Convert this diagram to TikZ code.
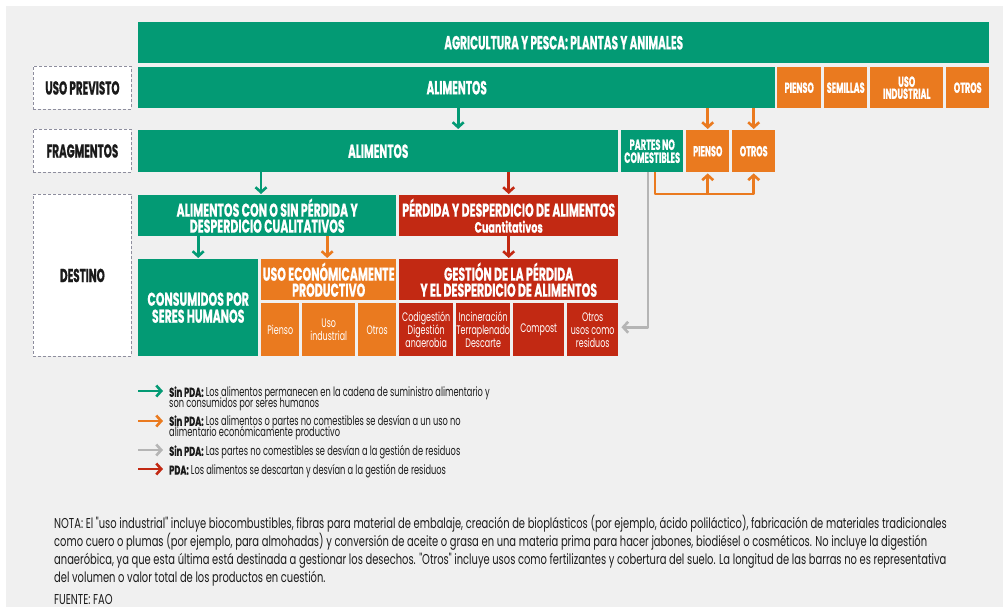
\documentclass[tikz,border=0pt]{standalone}
\usepackage{fontspec}
\usetikzlibrary{arrows.meta}
\newfontfamily\condf{Poppins}[FakeStretch=0.555, BoldFeatures={FakeBold=0.6}]
\newfontfamily\titf{Poppins}[FakeStretch=0.594, BoldFeatures={FakeBold=0.6}]
\newfontfamily\legf{Poppins}[FakeStretch=0.64, BoldFeatures={FakeBold=0.5}]
\newfontfamily\notef{Poppins}[FakeStretch=0.694]
\newcommand\fsz[2]{\fontsize{#1}{#2}\selectfont\lineskiplimit=-100pt\relax}
\definecolor{fgreen}{HTML}{039A74}
\definecolor{forange}{HTML}{EA7A1F}
\definecolor{fred}{HTML}{C22913}
\definecolor{fgray}{HTML}{B5B5B5}
\definecolor{fbg}{HTML}{F0F0F0}
\definecolor{fdash}{HTML}{8E8E9E}
\definecolor{ftext}{HTML}{1A1A1A}
\tikzset{
  bx/.style={anchor=north west, inner sep=0pt, align=center, text=white},
  gbx/.style={bx, fill=fgreen},
  obx/.style={bx, fill=forange},
  rbx/.style={bx, fill=fred},
  big/.style={font=\condf\bfseries\fsz{19}{18}},
  ttl/.style={font=\titf\bfseries\fsz{18.5}{16}},
  sml/.style={font=\condf\bfseries\fsz{14.6}{12}},
  sub/.style={font=\legf\fsz{12.4}{13}},
  lab/.style={anchor=north west, inner sep=0pt, fill=white, draw=fdash,
    dash pattern=on 3pt off 2pt, line width=0.9pt, text=ftext,
    font=\condf\bfseries\fsz{18.7}{18}},
  arr/.style={line width=2.6pt, -{Straight Barb[length=5pt,width=11pt]}, shorten >=1pt},
  legtxt/.style={anchor=north west, inner sep=0pt, align=left, text=ftext, font=\legf\fsz{12.9}{10.5}},
  notetxt/.style={anchor=base west, inner sep=0pt, text=ftext, font=\notef\fsz{14.3}{15}},
}
\begin{document}
\begin{tikzpicture}[x=1pt,y=-1pt]
\useasboundingbox (0,0) rectangle (1003,607);
\fill[white] (0,0) rectangle (1003,607);
\fill[fbg] (6,6) rectangle (1003,607);

% labels
\node[lab, minimum width=98pt, minimum height=43pt] (labUso) at (33,66) {USO PREVISTO};
\node[lab, minimum width=98pt, minimum height=43pt] (labFrag) at (33,129) {FRAGMENTOS};
\node[lab, minimum width=98pt, minimum height=162pt] (labDest) at (33,194) {DESTINO};

% row 1
\node[gbx, big, minimum width=851pt, minimum height=41pt] (agri) at (138,22) {AGRICULTURA Y PESCA: PLANTAS Y ANIMALES};
% row 2
\node[gbx, big, minimum width=637pt, minimum height=41pt] (ali2) at (138,67) {ALIMENTOS};
\node[obx, sml, minimum width=44pt, minimum height=41pt] (pien2) at (777,67) {PIENSO};
\node[obx, sml, minimum width=43pt, minimum height=41pt] (sem2) at (824,67) {SEMILLAS};
\node[obx, sml, minimum width=73pt, minimum height=41pt] (ind2) at (870,67) {USO\\INDUSTRIAL};
\node[obx, sml, minimum width=43pt, minimum height=41pt] (otr2) at (946,67) {OTROS};
% row 3
\node[gbx, big, minimum width=480pt, minimum height=42pt] (ali3) at (138,130) {ALIMENTOS};
\node[gbx, font=\condf\bfseries\fsz{14.8}{13}, minimum width=62pt, minimum height=42pt] (partes) at (621,130) {PARTES NO\\COMESTIBLES};
\node[obx, sml, minimum width=43pt, minimum height=42pt] (pien3) at (686,130) {PIENSO};
\node[obx, sml, minimum width=43pt, minimum height=42pt] (otr3) at (732,130) {OTROS};
% row 4
\node[gbx, ttl, minimum width=258pt, minimum height=41pt] (conq) at (138,195) {ALIMENTOS CON O SIN PÉRDIDA Y\\DESPERDICIO CUALITATIVOS};
\node[rbx, ttl, minimum width=219pt, minimum height=41pt] (pdq) at (399,195) {PÉRDIDA Y DESPERDICIO DE ALIMENTOS\\{\legf\fsz{15}{16}Cuantitativos}};
% row 5
\node[gbx, font=\titf\bfseries\fsz{18.5}{17}, minimum width=120pt, minimum height=97pt] (cons) at (138,259) {CONSUMIDOS POR\\SERES HUMANOS};
\node[obx, ttl, minimum width=135pt, minimum height=41pt] (usoe) at (261,259) {USO ECONÓMICAMENTE\\PRODUCTIVO};
\node[obx, sub, minimum width=38pt, minimum height=53pt] (upi) at (261,303) {Pienso};
\node[obx, sub, minimum width=53pt, minimum height=53pt] (uind) at (302,303) {Uso\\industrial};
\node[obx, sub, minimum width=38pt, minimum height=53pt] (uotr) at (358,303) {Otros};
\node[rbx, ttl, minimum width=219pt, minimum height=41pt] (gest) at (399,259) {GESTIÓN DE LA PÉRDIDA\\Y EL DESPERDICIO DE ALIMENTOS};
\node[rbx, sub, minimum width=54pt, minimum height=53pt] (gcod) at (399,303) {Codigestión\\Digestión\\anaerobia};
\node[rbx, sub, minimum width=54pt, minimum height=53pt] (ginc) at (456,303) {Incineración\\Terraplenado\\Descarte};
\node[rbx, sub, minimum width=51pt, minimum height=53pt] (gcom) at (513,303) {Compost};
\node[rbx, sub, minimum width=51pt, minimum height=53pt] (gotr) at (567,303) {Otros\\usos como\\residuos};

% connectors
\draw[arr, fgreen] ([xshift=1.5pt]ali2.south) -- ([xshift=1.5pt]ali2.south |- ali3.north);
\draw[arr, forange] (pien3.north |- ali2.south) -- (pien3.north);
\draw[arr, forange] (otr3.north |- ali2.south) -- (otr3.north);
\draw[arr, fgreen] ([xshift=123pt]ali3.south west) -- ([xshift=123pt]ali3.south west |- conq.north);
\draw[arr, fred] (pdq.north |- ali3.south) -- (pdq.north);
\draw[arr, fgreen] (cons.north |- conq.south) -- (cons.north);
\draw[arr, forange] ([xshift=-1.5pt]usoe.north |- conq.south) -- ([xshift=-1.5pt]usoe.north);
\draw[arr, fred] (gest.north |- pdq.south) -- (gest.north);
\coordinate (loopy) at (0,194);
\draw[arr, forange, line join=round] ([xshift=34pt]partes.south west) |- (otr3.south |- loopy) -- (otr3.south);
\draw[arr, forange] (pien3.south |- loopy) -- (pien3.south);
\draw[arr, fgray, shorten >=3pt, line join=round] ([xshift=27pt]partes.south west) |- ([yshift=2.5pt]gotr.east);

% legend
\coordinate (la1) at (138,391); \coordinate (lb1) at (163,391);
\coordinate (la2) at (138,421); \coordinate (lb2) at (163,421);
\coordinate (la3) at (138,450); \coordinate (lb3) at (163,450);
\coordinate (la4) at (138,469); \coordinate (lb4) at (163,469);
\draw[arr, fgreen, shorten >=0pt] (la1) -- (lb1);
\draw[arr, forange, shorten >=0pt] (la2) -- (lb2);
\draw[arr, fgray, shorten >=0pt] (la3) -- (lb3);
\draw[arr, fred, shorten >=0pt] (la4) -- (lb4);
\node[legtxt] (l1) at (169,386.3) {\textbf{Sin PDA:} Los alimentos permanecen en la cadena de suministro alimentario y\\son consumidos por seres humanos};
\node[legtxt] (l2) at (169,415.3) {\textbf{Sin PDA:} Los alimentos o partes no comestibles se desvían a un uso no\\alimentario económicamente productivo};
\node[legtxt] (l3) at (169,445.3) {\textbf{Sin PDA:} Las partes no comestibles se desvían a la gestión de residuos};
\node[legtxt] (l4) at (169,464.3) {\textbf{PDA:} Los alimentos se descartan y desvían a la gestión de residuos};

% note
\node[notetxt] (n1) at (54,528) {NOTA: El "uso industrial" incluye biocombustibles, fibras para material de embalaje, creación de bioplásticos (por ejemplo, ácido poliláctico), fabricación de materiales tradicionales};
\node[notetxt] (n2) at (54,546) {como cuero o plumas (por ejemplo, para almohadas) y conversión de aceite o grasa en una materia prima para hacer jabones, biodiésel o cosméticos. No incluye la digestión};
\node[notetxt] (n3) at (54,564) {anaeróbica, ya que esta última está destinada a gestionar los desechos. "Otros" incluye usos como fertilizantes y cobertura del suelo. La longitud de las barras no es representativa};
\node[notetxt] (n4) at (54,582) {del volumen o valor total de los productos en cuestión.};
\node[notetxt] (n5) at (54,604) {FUENTE: FAO};
\end{tikzpicture}
\end{document}
